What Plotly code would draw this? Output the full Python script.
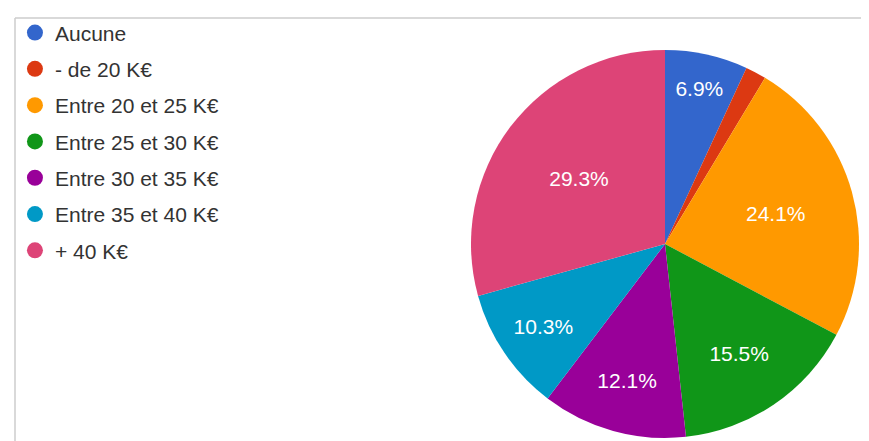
import plotly.graph_objects as go

categories = ["Aucune", "- de 20 K€", "Entre 20 et 25 K€", "Entre 25 et 30 K€",
              "Entre 30 et 35 K€", "Entre 35 et 40 K€", "+ 40 K€"]
counts = [4, 1, 14, 9, 7, 6, 17]
colors = ["#3366cc", "#dc3912", "#ff9900", "#109618", "#990099", "#0099c6", "#dd4477"]
label_templates = ["%{percent:.1%}", "", "%{percent:.1%}", "%{percent:.1%}",
                   "%{percent:.1%}", "%{percent:.1%}", "%{percent:.1%}"]

W, H = 869, 441
cx, cy, r = 657, 236, 194

fig = go.Figure()
fig.add_trace(go.Pie(
    labels=categories, values=counts, sort=False, direction="clockwise", rotation=0,
    marker=dict(colors=colors, line=dict(width=0)),
    texttemplate=label_templates, textposition="inside", insidetextorientation="horizontal",
    textfont=dict(family="Liberation Sans, Arial, sans-serif", size=21, color="white"),
    showlegend=False,
    domain=dict(x=[(cx - r) / W, (cx + r) / W], y=[(H - cy - r) / H, (H - cy + r) / H]),
))
for i, (cat, col) in enumerate(zip(categories, colors)):
    fig.add_trace(go.Scatter(
        x=[None], y=[None], mode="markers", name=cat, legendgroup=f"g{i}",
        marker=dict(symbol="circle", size=17, color=col),
    ))

fig.update_layout(
    width=W, height=H, margin=dict(l=0, r=0, t=0, b=0),
    paper_bgcolor="white", plot_bgcolor="white",
    xaxis=dict(visible=False), yaxis=dict(visible=False),
    legend=dict(x=0.008, y=0.99, xanchor="left", yanchor="top",
                font=dict(family="Liberation Sans, Arial, sans-serif", size=21, color="#333333"),
                tracegroupgap=6, itemsizing="trace", itemwidth=30, bgcolor="rgba(0,0,0,0)"),
    shapes=[
        dict(type="line", xref="paper", yref="paper", x0=7 / W, x1=1, y0=1 - 10 / H, y1=1 - 10 / H,
             line=dict(color="#cccccc", width=1.5)),
        dict(type="line", xref="paper", yref="paper", x0=7 / W, x1=7 / W, y0=0, y1=1 - 10 / H,
             line=dict(color="#cccccc", width=1.5)),
    ],
)
fig.write_html("out.html")
